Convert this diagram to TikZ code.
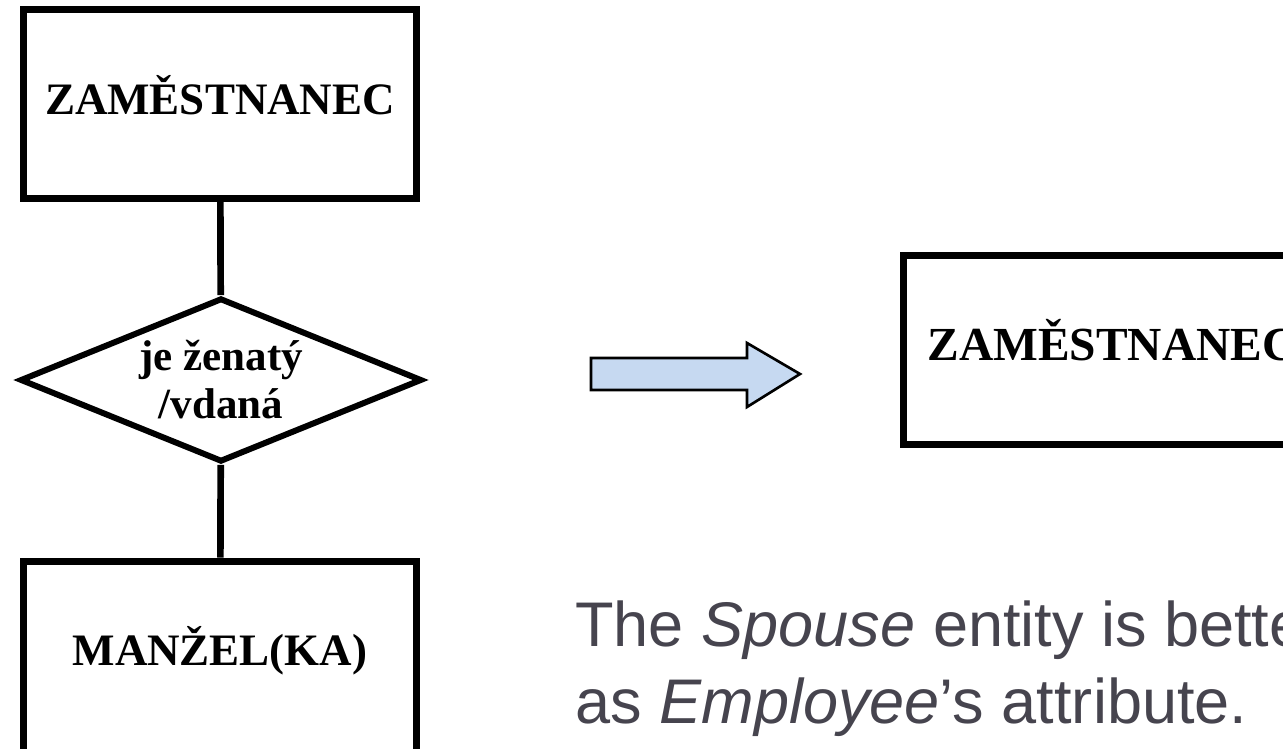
\documentclass[tikz,border=0pt]{standalone}
\usepackage{fontspec}
\setmainfont{Liberation Serif}
\newfontfamily\notefont{Liberation Sans}
\usepackage{xcolor}
\usetikzlibrary{shapes.geometric,positioning}
\definecolor{notegray}{RGB}{70,68,78}
\definecolor{arrowblue}{RGB}{198,217,241}
\tikzset{entity/.style={draw,line width=4pt,minimum width=7.86cm,minimum height=3.78cm,inner sep=0pt,
    font=\fontsize{25.6}{30}\selectfont\bfseries,text height=0.7cm,text depth=0.26cm},
  relation/.style={draw,diamond,shape aspect=2.45,line width=3.4pt,minimum width=8.04cm,minimum height=3.28cm,
    inner sep=0pt,align=center,font=\fontsize{24.5}{27.3}\selectfont\bfseries},
  link/.style={line width=3.8pt}}

\begin{document}
\begin{tikzpicture}[x=0.02cm,y=-0.02cm]
\useasboundingbox (0,0) rectangle (1283,749);
\clip (0,0) rectangle (1283,749);
% left side: entity - relation - entity
\node[entity] (employee) at (220,104) {ZAMĚSTNANEC};
\node[relation] (married) at (221,380) {je ženatý\\/vdaná};
\node[entity,minimum height=4.18cm,text height=0.5cm,text depth=0.5cm] (spouse) at (220,665.5) {MANŽEL(KA)};
\draw[link] (employee) -- (married);
\draw[link] (married) -- (spouse);
% block arrow
\draw[line width=1.5pt,fill=arrowblue] (591,358) -- (747,358) -- (747,343) -- (800,374)
  -- (747,407) -- (747,390) -- (591,390) -- cycle;
% right side
\node[entity,minimum width=8.34cm,font=\fontsize{27}{32}\selectfont\bfseries] (employee2) at (1112,350) {ZAMĚSTNANEC};
\node[anchor=base west,inner sep=0pt,align=left,text=notegray,
  font=\notefont\fontsize{35.9}{43.8}\selectfont] (note) at (575,723)
  {The \textit{Spouse} entity is better\\as \textit{Employee}’s attribute.};
\end{tikzpicture}
\end{document}
